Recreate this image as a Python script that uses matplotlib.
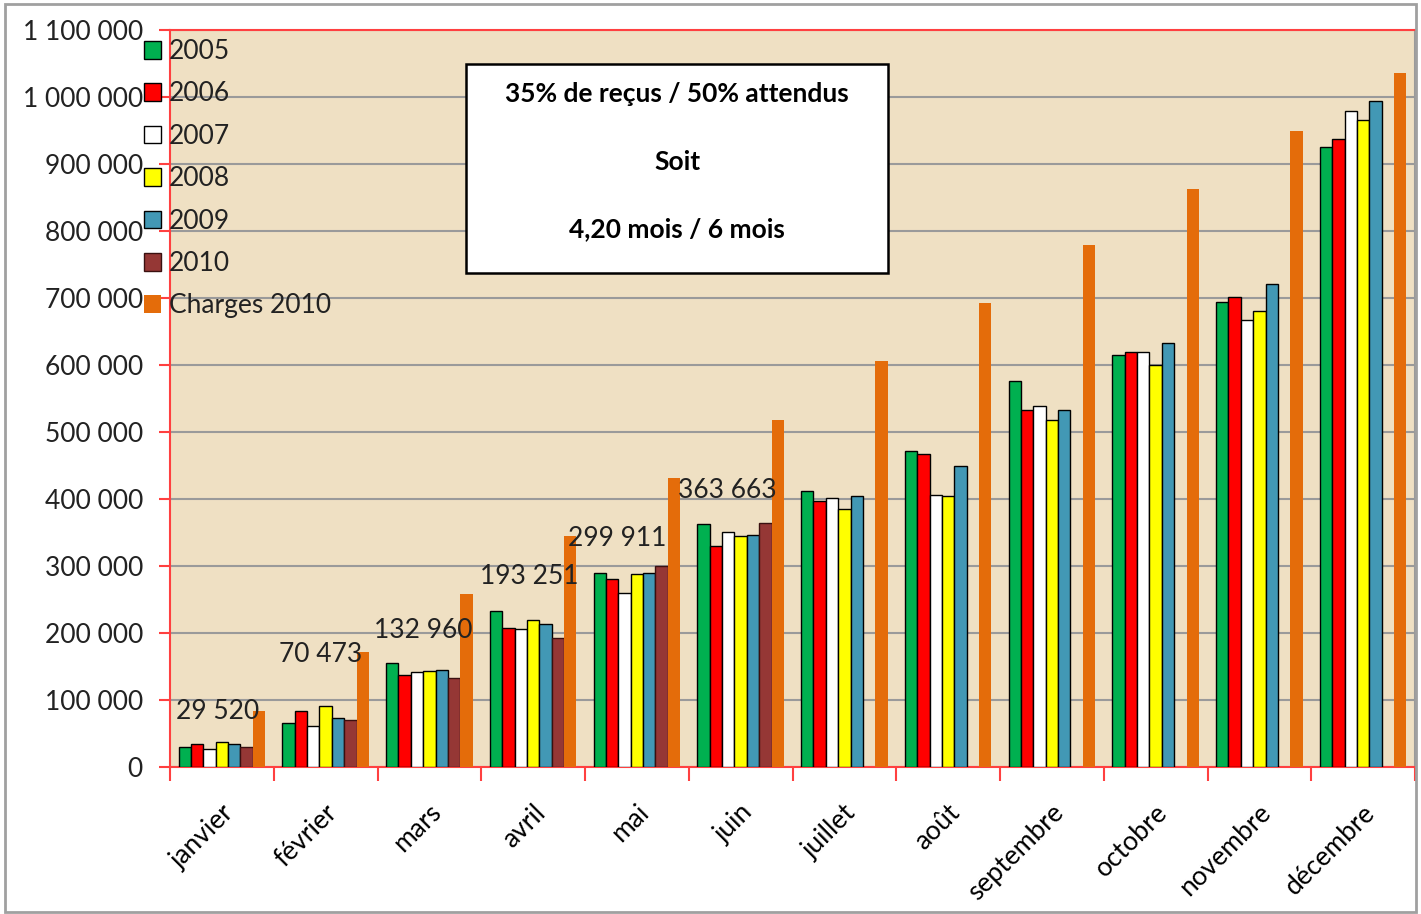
import numpy as np
import matplotlib
matplotlib.use("Agg")
import matplotlib.pyplot as plt
import matplotlib.transforms as mtransforms
from matplotlib.patches import Rectangle
from matplotlib.ticker import FuncFormatter

plt.rcParams['font.family'] = ['Lato', 'DejaVu Sans']

mois = ['janvier', 'février', 'mars', 'avril', 'mai', 'juin', 'juillet',
        'août', 'septembre', 'octobre', 'novembre', 'décembre']

v2005 = [29400, 66100, 155200, 233300, 289100, 362700, 412400, 471100,
         575800, 615200, 693400, 925200]
v2006 = [33900, 83100, 137800, 207000, 281100, 329400, 397400, 467500,
         533500, 620000, 701600, 936900]
v2007 = [26400, 61700, 141300, 205500, 259700, 350300, 401500, 406700,
         539200, 620000, 667400, 978700]
v2008 = [36900, 91500, 143800, 219400, 287600, 344800, 384500, 404100,
         517500, 599500, 681100, 965700]
v2009 = [33900, 73600, 145300, 212900, 289100, 346700, 405200, 450000,
         533500, 633100, 720900, 994500]
v2010 = [29520, 70473, 132960, 193251, 299911, 363663]
charges2010 = [83600, 172100, 258700, 344800, 431300, 517400, 606700, 692300,
               778900, 862800, 949200, 1035700]

series = [
    ('2005', v2005, '#00B050', 'black'),
    ('2006', v2006, '#FF0000', 'black'),
    ('2007', v2007, '#FFFFFF', 'black'),
    ('2008', v2008, '#FFFF00', 'black'),
    ('2009', v2009, '#4298B5', 'black'),
    ('2010', v2010, '#953735', '#3a1010'),
    ('Charges 2010', charges2010, '#E46C0A', 'none'),
]

# where the 2010 labels sit (layout only)
lab_dx = [-0.04, -0.05, -0.06, -0.04, -0.19, -0.125]
lab_y = [82100, 167200, 203000, 283600, 340300, 413400]

FS = 19

fig = plt.figure(figsize=(14.21, 9.14), dpi=100)
ax = fig.add_axes([170 / 1421, 1 - 767 / 914, 1245 / 1421, 737 / 914])
ax.set_facecolor('#EFE0C3')

w = 1 / 8.4
x = np.arange(12)
handles = []
for k, (name, vals, col, edge) in enumerate(series):
    xs = x[:len(vals)] + (k - 3) * w
    b = ax.bar(xs, vals, width=w, color=col, edgecolor=edge,
               linewidth=1.0 if edge != 'none' else 0, label=name, zorder=3)
    handles.append(b)

for i, v in enumerate(v2010):
    ax.text(i + lab_dx[i], lab_y[i], f'{v:,}'.replace(',', ' '),
            ha='center', va='center', fontsize=FS, color='#222222', zorder=4)

ax.set_xlim(-0.5, 11.5)
ax.set_ylim(0, 1100000)
ax.set_yticks(np.arange(0, 1100001, 100000))
ax.yaxis.set_major_formatter(FuncFormatter(lambda v, p: f'{int(v):,}'.replace(',', ' ')))
ax.grid(axis='y', color='#9a9a9a', linewidth=1.5, zorder=1)
ax.set_axisbelow(True)

ax.set_xticks(np.arange(-0.5, 12, 1))
ax.set_xticklabels([])
ax.set_xticks(x, mois, minor=True)
ax.tick_params(axis='x', which='major', length=10, color='#FF4040', width=1.5, direction='out')
ax.tick_params(axis='x', which='minor', length=0, pad=30, labelsize=FS)
off = mtransforms.ScaledTranslation(8 / 100, 0, fig.dpi_scale_trans)
for lab in ax.get_xticklabels(minor=True):
    lab.set_rotation(45)
    lab.set_ha('right')
    lab.set_va('center')
    lab.set_rotation_mode('anchor')
    lab.set_transform(lab.get_transform() + off)
ax.tick_params(axis='y', length=8, color='#FF4040', width=1.5, direction='out',
               pad=11.5, labelsize=FS, labelcolor='#222222')

for s in ['left', 'top', 'bottom']:
    ax.spines[s].set_color('#FF4040')
    ax.spines[s].set_linewidth(1.5)
ax.spines['right'].set_color('#9a9a9a')
ax.spines['right'].set_linewidth(1.5)

leg = ax.legend(handles=handles, loc='upper left', bbox_to_anchor=(144 / 1421, 1 - 39 / 914),
                bbox_transform=fig.transFigure, frameon=False, fontsize=FS,
                handlelength=0.65, handleheight=0.65, handletextpad=0.3,
                labelspacing=0.66, borderpad=0, borderaxespad=0)
for t in leg.get_texts():
    t.set_color('#222222')

# text box
fig.patches.append(Rectangle((466 / 1421, 1 - 273 / 914), 422 / 1421, 209 / 914,
                             transform=fig.transFigure, facecolor='white',
                             edgecolor='black', linewidth=1.8, zorder=5))
for txt, yy in [('35% de reçus / 50% attendus', 94), ('Soit', 162), ('4,20 mois / 6 mois', 229)]:
    fig.text(677 / 1421, 1 - yy / 914, txt, ha='center', va='center',
             fontsize=FS, fontweight='bold', zorder=6)

# outer frame
fig.patches.append(Rectangle((5 / 1421, 2 / 914), 1411 / 1421, 908 / 914,
                             transform=fig.transFigure, facecolor='none',
                             edgecolor='#a0a0a0', linewidth=2, zorder=0))

fig.savefig('out.png', dpi=100)
